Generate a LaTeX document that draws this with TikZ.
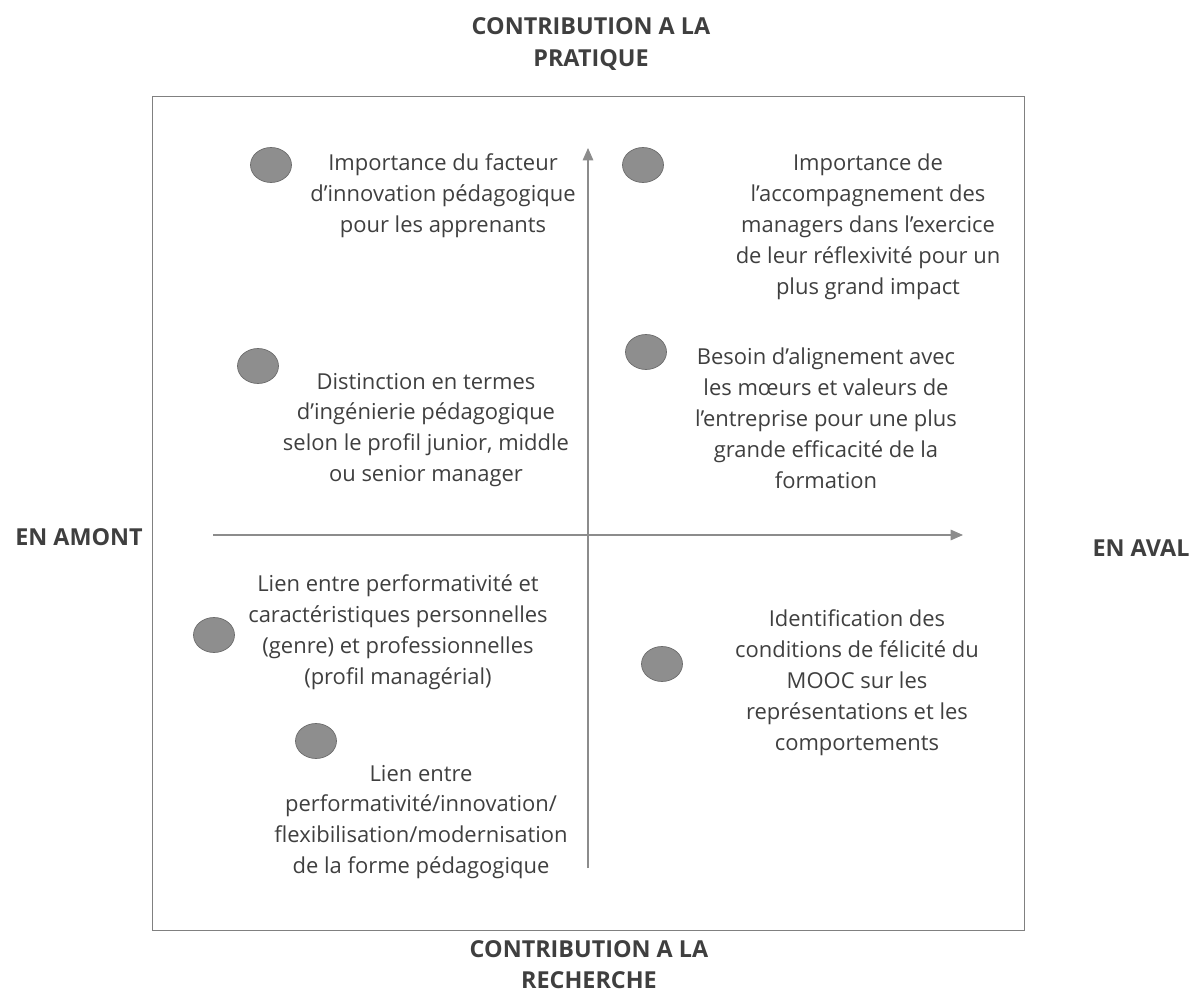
\documentclass[tikz,border=0pt]{standalone}
\usepackage{fontspec}
\setmainfont{Open Sans}
\usetikzlibrary{arrows.meta,shapes.geometric}
\definecolor{txtgray}{HTML}{3F3F3F}
\definecolor{axisgray}{HTML}{8C8C8C}
\definecolor{dotgray}{HTML}{8E8E8E}
\begin{document}
\begin{tikzpicture}[x=0.02cm,y=-0.02cm,
  every node/.style={font=\fontsize{12.5}{17.6}\selectfont,text=txtgray},
  item/.style={align=center,inner sep=0pt},
  dot/.style={draw=gray!85!black,fill=dotgray,ellipse,minimum width=0.82cm,minimum height=0.7cm,inner sep=0pt},
  axislabel/.style={align=center,inner sep=0pt,font=\bfseries\fontsize{13.3}{17.8}\selectfont},
  axis/.style={draw=axisgray,line width=0.6pt,-{Triangle[length=7pt,width=6pt]}}]
\useasboundingbox (0,0) rectangle (1194,996);
\draw[draw=gray,line width=0.5pt] (152,96) rectangle (1024,930);
% axes
\coordinate (vbot) at (588,868);
\coordinate (vtop) at (588,148);
\coordinate (hleft) at (213,535);
\coordinate (hright) at (963,535);
\draw[axis] (vbot) -- (vtop);
\draw[axis] (hleft) -- (hright);
% axis labels
\node[axislabel] (pratique) at (591,44) {CONTRIBUTION A LA\\PRATIQUE};
\node[axislabel] (recherche) at (589,965) {CONTRIBUTION A LA\\RECHERCHE};
\node[axislabel] (amont) at (79,537) {EN AMONT};
\node[axislabel] (aval) at (1141,548) {EN AVAL};
% points
\node[dot] (d1) at (271,165) {};
\node[dot] (d2) at (643,165) {};
\node[dot] (d3) at (258,366) {};
\node[dot] (d4) at (646,352) {};
\node[dot] (d5) at (214,635) {};
\node[dot] (d6) at (662,664) {};
\node[dot] (d7) at (316,741) {};
% texts
\node[item] (t1) at (443,196) {Importance du facteur\\d’innovation pédagogique\\pour les apprenants};
\node[item] (t2) at (868,227) {Importance de\\l’accompagnement des\\managers dans l’exercice\\de leur réflexivité pour un\\plus grand impact};
\node[item] (t3) at (426,430) {Distinction en termes\\d’ingénierie pédagogique\\selon le profil junior, middle\\ou senior manager};
\node[item] (t4) at (826,418) {Besoin d’alignement avec\\les mœurs et valeurs de\\l’entreprise pour une plus\\grande efficacité de la\\formation};
\node[item] (t5) at (398,632) {Lien entre performativité et\\caractéristiques personnelles\\(genre) et professionnelles\\(profil managérial)};
\node[item] (t6) at (857,683) {Identification des\\conditions de félicité du\\MOOC sur les\\représentations et les\\comportements};
\node[item] (t7) at (421,822) {Lien entre\\performativité/innovation/\\flexibilisation/modernisation\\de la forme pédagogique};
\end{tikzpicture}
\end{document}
